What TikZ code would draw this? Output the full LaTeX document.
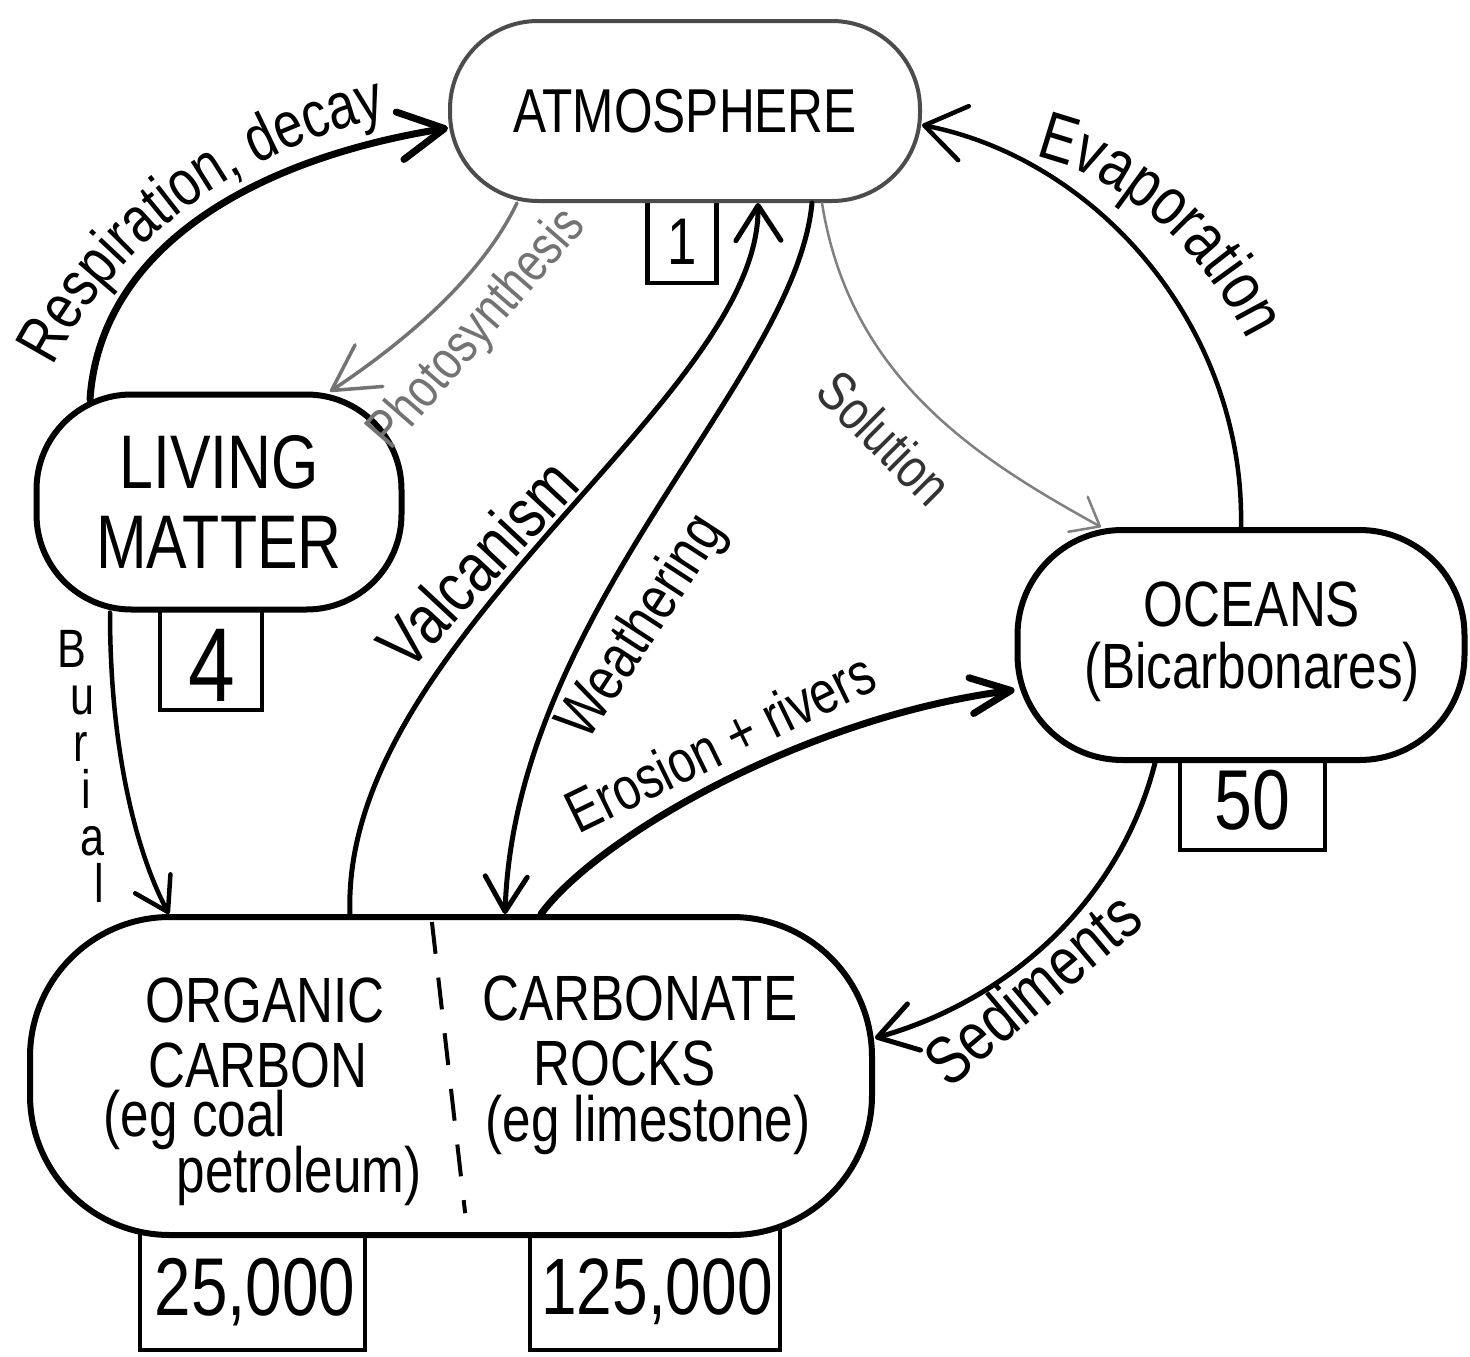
\documentclass[tikz,border=0pt]{standalone}
\usepackage{fontspec}
\setmainfont{Liberation Sans}[FakeStretch=0.8]
\usetikzlibrary{arrows.meta,decorations.text}
\newcommand{\hsz}[2]{\fontsize{#1}{#2}\selectfont}
\newcommand{\respfont}{\hsz{65}{70}}
\newcommand{\evapfont}{\hsz{68}{70}}
\begin{document}
\begin{tikzpicture}[x=1pt,y=-1pt,
  blob/.style={draw, line width=6pt, fill=white, inner sep=0pt},
  numbox/.style={draw, line width=4.5pt, fill=white, inner sep=0pt},
  lab/.style={inner sep=0pt},
  arr/.style={line width=#1, line cap=round},
  ]
\fill[white] (0,0) rectangle (1470,1357);
\useasboundingbox (0,0) rectangle (1470,1357);

% value boxes (drawn first, tops hidden by the blobs)
\node[numbox, minimum width=69pt, minimum height=133pt] (b1) at (682,216.5) {};
\node[numbox, minimum width=102pt, minimum height=150pt] (b4) at (211,635) {};
\node[numbox, minimum width=145pt, minimum height=150pt] (b50) at (1252.5,775) {};
\node[numbox, minimum width=225pt, minimum height=170pt] (b25) at (252.5,1265) {};
\node[numbox, minimum width=250pt, minimum height=170pt] (b125) at (655,1265) {};

% reservoirs
\node[blob, draw=black!70, line width=4pt, rounded corners=88pt, minimum width=470pt, minimum height=180pt, font=\hsz{62}{70}] (atm) at (685,111) {ATMOSPHERE};
\node[blob, rounded corners=95pt, minimum width=365pt, minimum height=215pt, align=center, font=\hsz{76}{80}] (liv) at (219,502) {LIVING\\MATTER};
\node[blob, rounded corners=105pt, minimum width=447pt, minimum height=230pt] (oce) at (1241,645) {};
\node[blob, rounded corners=140pt, minimum width=842pt, minimum height=318pt] (bot) at (451,1076) {};

\node[lab, align=center, font=\hsz{64}{62}] (ocet) at (1252,642) {OCEANS\\(Bicarbonares)};

\draw[line width=4pt, dash pattern=on 32pt off 24pt, shorten <=8pt, shorten >=25pt] ([xshift=-20pt]bot.north) -- ([xshift=17pt]bot.south);

\node[lab, font=\hsz{64}{64}] (org1) at (265,1000) {ORGANIC};
\node[lab, font=\hsz{64}{64}] (org2) at (258,1065) {CARBON};
\node[lab, font=\hsz{64}{64}] (org3) at (195,1120) {(eg coal};
\node[lab, font=\hsz{64}{64}] (org4) at (299,1176) {petroleum)};
\node[lab, font=\hsz{64}{64}] (carb1) at (640,998) {CARBONATE};
\node[lab, font=\hsz{64}{64}] (carb2) at (625,1063) {ROCKS};
\node[lab, font=\hsz{64}{64}] (carb3) at (648,1125) {(eg limestone)};

% numbers
\node[lab, font=\hsz{66}{70}] (n1) at (682,242) {1};
\node[lab, font=\hsz{105}{110}] (n4) at (212,665) {4};
\node[lab, font=\hsz{85}{90}] (n50) at (1252,800) {50};
\node[lab, font=\hsz{82}{90}] (n25) at (255,1292) {25,000};
\node[lab, font=\hsz{80}{90}] (n125) at (657,1292) {125,000};

% fluxes
% respiration, decay
\draw[arr=7pt, -{Straight Barb[length=45pt,width=48pt,round]}] ([xshift=-129pt,yshift=-8pt]liv.north) .. controls (100,250) and (250,160) .. ([yshift=-17pt]atm.west);
% photosynthesis
\draw[arr=3.5pt, black!55, -{Straight Barb[length=45pt,width=50pt,round]}] ([xshift=-168pt]atm.south) .. controls (480,280) and (400,345) .. ([xshift=111pt]liv.north);
% valcanism
\draw[arr=5pt, -{Straight Barb[length=35pt,width=45pt,round]}] ([xshift=-101pt]bot.north) .. controls (340,640) and (760,400) .. ([xshift=73pt]atm.south);
% weathering
\draw[arr=5pt, -{Straight Barb[length=35pt,width=42pt,round]}] ([xshift=127pt]atm.south) .. controls (795,380) and (515,610) .. ([xshift=54pt]bot.north);
% solution
\draw[arr=2.5pt, black!50, -{Straight Barb[length=25pt,width=40pt,round]}] ([xshift=137pt]atm.south) .. controls (850,380) and (980,460) .. ([xshift=-140pt]oce.north);
% evaporation
\draw[arr=4.5pt, -{Straight Barb[length=40pt,width=55pt,round]}] (oce.north) .. controls (1245,330) and (1100,160) .. ([yshift=-14pt]atm.east);
% erosion + rivers
\draw[arr=7pt, -{Straight Barb[length=40pt,width=36pt,round]}] ([xshift=90pt]bot.north) .. controls (595,840) and (800,718) .. ([yshift=-45pt]oce.west);
% sediments
\draw[arr=5pt, -{Straight Barb[length=38pt,width=48pt,round]}] ([xshift=-86pt]oce.south) .. controls (1120,900) and (1010,1000) .. ([yshift=38pt]bot.east);
% burial
\draw[arr=4.5pt, -{Straight Barb[length=32pt,width=40pt,round]}] ([xshift=-109pt]liv.south) .. controls (110,760) and (140,860) .. ([xshift=-282pt]bot.north);

% flux labels
\path[decorate, decoration={text along path, text align=center, text={|\respfont|Respiration, decay}}] (42,388) .. controls (100,260) and (220,150) .. (410,112);
\path[decorate, decoration={text along path, text align=center, text={|\evapfont|Evaporation}}] (1030,155) .. controls (1110,170) and (1200,240) .. (1250,345);
\node[lab, rotate=49, text=black!55, font=\hsz{55}{60}] (photo) at (478,330) {Photosynthesis};
\node[lab, rotate=47, font=\hsz{70}{70}] (valc) at (477,563) {Valcanism};
\node[lab, rotate=57, font=\hsz{62}{62}] (weath) at (643,628) {Weathering};
\node[lab, rotate=-45, text=black!80, font=\hsz{56}{60}] (sol) at (885,438) {Solution};
\node[lab, rotate=26, font=\hsz{60}{60}] (eros) at (720,742) {Erosion + rivers};
\node[lab, rotate=40, font=\hsz{68}{68}] (sedi) at (1032,988) {Sediments};
\node[lab, align=left, anchor=north west, font=\hsz{54}{47}] (burial) at (57,630) {B\\\hspace*{13pt}u\\\hspace*{16pt}r\\\hspace*{24pt}i\\\hspace*{23pt}a\\\hspace*{37pt}l};
\end{tikzpicture}
\end{document}
